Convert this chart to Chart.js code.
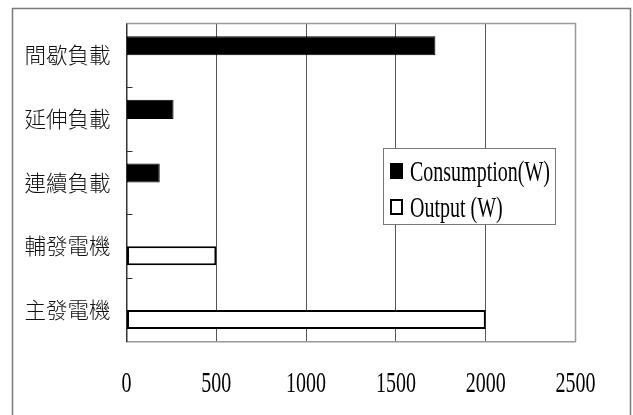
<!DOCTYPE html>
<html>
<head>
<meta charset="utf-8">
<script src="https://cdn.jsdelivr.net/npm/chart.js@4/dist/chart.umd.min.js"></script>
<style>
  html, body { margin: 0; padding: 0; background: #fff; }
  canvas { display: block; }
</style>
</head>
<body>
<canvas id="c" width="633" height="415"></canvas>
<script>
// Load categories (top to bottom)
const categories = ['間歇負載', '延伸負載', '連續負載', '輔發電機', '主發電機'];
// Power consumed by each load group (W)
const consumption = [1720, 262, 185, null, null];
// Power supplied by each generator (W)
const output = [null, null, null, 500, 2000];
// Value axis ticks
const xTicks = [0, 500, 1000, 1500, 2000, 2500];
const seriesLabels = ['Consumption(W)', 'Output (W)'];

const SERIF = '"Liberation Serif", "Times New Roman", serif';
const STRETCH = 1.42; // tall, narrow Latin lettering

// Draw text stretched vertically at a baseline position
function tallText(ctx, txt, x, baseline, align) {
  ctx.save();
  ctx.translate(x, baseline);
  ctx.scale(1, STRETCH);
  ctx.textAlign = align;
  ctx.textBaseline = 'alphabetic';
  ctx.fillText(txt, 0, 0);
  ctx.restore();
}

const decor = {
  id: 'decor',
  beforeDraw(chart) {
    const ctx = chart.ctx;
    ctx.save();
    ctx.fillStyle = '#fff';
    ctx.fillRect(0, 0, chart.width, chart.height);
    // outer frame
    ctx.strokeStyle = '#7a7a7a';
    ctx.lineWidth = 1.5;
    ctx.beginPath();
    ctx.moveTo(12.5, 420);
    ctx.lineTo(12.5, 8.5);
    ctx.lineTo(630.5, 8.5);
    ctx.lineTo(630.5, 420);
    ctx.stroke();
    ctx.restore();
  },
  afterDatasetsDraw(chart) {
    const ctx = chart.ctx;
    const a = chart.chartArea;
    const ys = chart.scales.y;
    const xs = chart.scales.x;
    ctx.save();
    // plot frame: top and right edges
    ctx.strokeStyle = '#999';
    ctx.lineWidth = 1.5;
    ctx.beginPath();
    ctx.moveTo(a.left, a.top);
    ctx.lineTo(a.right, a.top);
    ctx.lineTo(a.right, a.bottom);
    ctx.stroke();
    // inside tick marks between categories
    ctx.strokeStyle = '#333';
    ctx.lineWidth = 1;
    ctx.beginPath();
    for (let i = 1; i < categories.length; i++) {
      const y = Math.round(ys.getPixelForValue(i - 0.5)) + 0.5;
      ctx.moveTo(a.left, y);
      ctx.lineTo(a.left + 6, y);
    }
    ctx.stroke();
    // value axis labels
    ctx.fillStyle = '#000';
    ctx.font = '20px ' + SERIF;
    xTicks.forEach(v => {
      tallText(ctx, String(v), xs.getPixelForValue(v), 391.5, 'center');
    });
    ctx.restore();
  },
  afterDraw(chart) {
    const ctx = chart.ctx;
    ctx.save();
    // legend box
    const bx = 383.5, by = 148.5, bw = 172, bh = 76;
    ctx.fillStyle = '#fff';
    ctx.fillRect(bx, by, bw, bh);
    ctx.strokeStyle = '#777';
    ctx.lineWidth = 1;
    ctx.strokeRect(bx, by, bw, bh);
    const rows = [181, 217];
    chart.data.datasets.forEach((ds, i) => {
      const base = rows[i];
      ctx.fillStyle = ds.backgroundColor;
      ctx.fillRect(390, base - 18, 13, 16);
      ctx.strokeStyle = ds.borderColor;
      ctx.lineWidth = 2;
      ctx.strokeRect(391, base - 17, 11, 14);
      ctx.fillStyle = '#000';
      ctx.font = '20px ' + SERIF;
      tallText(ctx, ds.label, 410, base, 'left');
    });
    ctx.restore();
  }
};

new Chart(document.getElementById('c'), {
  type: 'bar',
  data: {
    labels: categories,
    datasets: [
      {
        label: seriesLabels[0],
        data: consumption,
        backgroundColor: '#000',
        borderColor: '#000',
        borderWidth: 1,
        borderSkipped: false,
        categoryPercentage: 0.6,
        barPercentage: 1.0
      },
      {
        label: seriesLabels[1],
        data: output,
        backgroundColor: '#fff',
        borderColor: '#000',
        borderWidth: 2,
        borderSkipped: false,
        categoryPercentage: 0.6,
        barPercentage: 1.0
      }
    ]
  },
  options: {
    indexAxis: 'y',
    responsive: false,
    animation: false,
    devicePixelRatio: 1,
    layout: { padding: { top: 23.5, right: 57.5, bottom: 73.3, left: 0 } },
    plugins: { legend: { display: false }, tooltip: { enabled: false } },
    scales: {
      x: {
        min: xTicks[0],
        max: xTicks[xTicks.length - 1],
        ticks: { stepSize: 500, display: false },
        grid: {
          drawTicks: false,
          lineWidth: 1,
          color: c => (c.tick && (c.tick.value === xTicks[0] || c.tick.value === xTicks[xTicks.length - 1])) ? 'rgba(0,0,0,0)' : '#555'
        },
        border: { display: true, color: '#999', width: 1.5 },
        afterFit: s => { s.height = 0; s.paddingLeft = 0; s.paddingRight = 0; }
      },
      y: {
        grid: { display: false, drawTicks: false },
        border: { display: true, color: '#333', width: 1.5 },
        ticks: {
          color: '#111',
          padding: 16,
          font: { family: '"Noto Sans CJK TC", "Noto Sans CJK SC", sans-serif', size: 21.5, weight: '300' }
        },
        afterFit: s => { s.width = 126.5; s.paddingTop = 0; s.paddingBottom = 0; }
      }
    }
  },
  plugins: [decor]
});
</script>
</body>
</html>
